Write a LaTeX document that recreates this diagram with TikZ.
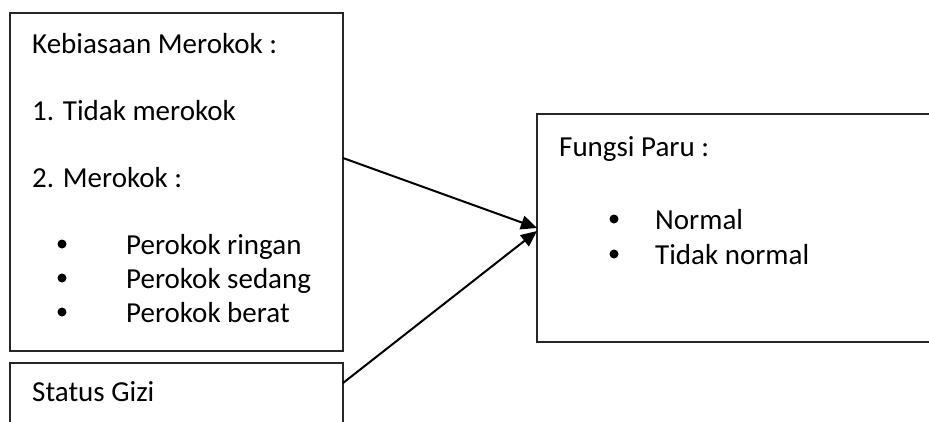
\documentclass[tikz,border=0pt]{standalone}
\usepackage{fontspec}
\setmainfont{Carlito}
\usetikzlibrary{arrows.meta}
\begin{document}
\begin{tikzpicture}[x=1pt,y=-1pt,
  box/.style={draw=black!85, line width=1.4pt, anchor=north west, inner sep=0pt, outer sep=0pt},
  txt/.style={anchor=base west, inner sep=0pt, font=\fontsize{29}{35}\selectfont},
  dot/.style={circle, fill=black, inner sep=0pt, minimum size=9pt},
  link/.style={line width=2pt, -{Triangle[length=16pt,width=14pt]}}]
\useasboundingbox (0,0) rectangle (929,421);
\clip (0,0) rectangle (929,421);
% boxes
\node[box, minimum width=333pt, minimum height=338pt] (kb) at (10,13) {};
\node[box, minimum width=333pt, minimum height=100pt] (sg) at (10,363) {};
\node[box, minimum width=420pt, minimum height=228pt] (fp) at (537,114) {};
% left box text
\node[txt] (t1) at (32,53) {Kebiasaan Merokok :};
\node[txt] (t2) at (32,120) {1. Tidak merokok};
\node[txt] (t3) at (32,187) {2. Merokok :};
\node[dot] (d1) at (62,244) {};
\node[txt] (t4) at (126,254) {Perokok ringan};
\node[dot] (d2) at (62,278) {};
\node[txt] (t5) at (126,288) {Perokok sedang};
\node[dot] (d3) at (62,312) {};
\node[txt] (t6) at (126,322) {Perokok berat};
% status gizi
\node[txt] (t7) at (32,401) {Status Gizi};
% right box text
\node[txt] (t8) at (559,156) {Fungsi Paru :};
\node[dot] (d4) at (614,219) {};
\node[txt] (t9) at (655,229) {Normal};
\node[dot] (d5) at (614,254) {};
\node[txt] (t10) at (655,264) {Tidak normal};
% connectors
\coordinate (s1) at (kb.east |- 0,158);
\coordinate (s2) at (sg.east |- 0,383);
\coordinate (e1) at (fp.west |- 0,228);
\coordinate (e2) at (fp.west |- 0,231);
\draw[link] (s1) -- (e1);
\draw[link] (s2) -- (e2);
\end{tikzpicture}
\end{document}
